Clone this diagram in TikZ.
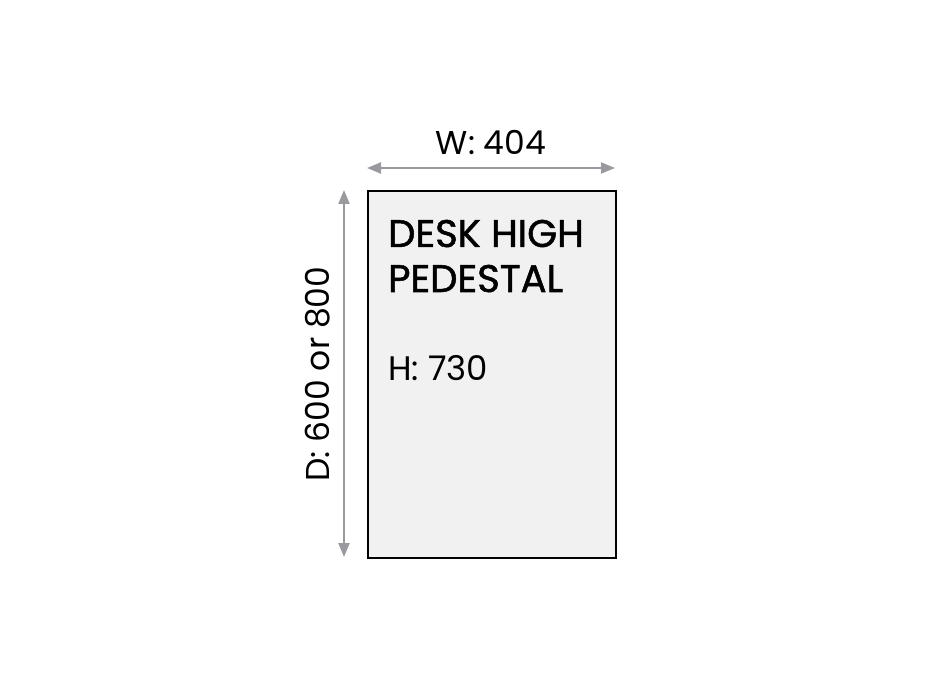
\documentclass[tikz,border=0pt]{standalone}
\usepackage{fontspec}
\setmainfont{Poppins}
\newfontfamily\titlefont[FakeBold=1.3]{Poppins}
\usetikzlibrary{arrows.meta}
\definecolor{boxfill}{HTML}{F0F1F0}
\definecolor{dimgrey}{HTML}{9A9A9E}
\begin{document}
\begin{tikzpicture}[x=1pt,y=-1pt,
  dimline/.style={draw=dimgrey,line width=2.2pt,{Triangle[length=14pt,width=11pt]}-{Triangle[length=14pt,width=11pt]}},
  lbl/.style={inner sep=0pt,font=\fontsize{33}{36}\selectfont},
  title/.style={inner sep=0pt,font=\titlefont\fontsize{38.5}{40}\selectfont,anchor=base west,align=left}]
\useasboundingbox (0,0) rectangle (931,700);
\node[draw=black,line width=2pt,fill=boxfill,minimum width=248pt,minimum height=367pt,inner sep=0pt,anchor=north west] (box) at (367,190) {};
\coordinate (wl) at (367,168);
\coordinate (wr) at (615,168);
\coordinate (dt) at (344,190);
\coordinate (db) at (344,557);
\draw[dimline] (wl) -- (wr);
\draw[dimline] (dt) -- (db);
\node[lbl,anchor=base] (wlab) at (491,155) {W: 404};
\node[lbl,anchor=base,rotate=90] (dlab) at (329,374) {D: 600 or 800};
\node[title] (t1) at (388,247) {DESK HIGH};
\node[title] (t2) at (388,292) {PEDESTAL};
\node[lbl,anchor=base west,font=\fontsize{34}{36}\selectfont] (hlab) at (388,380) {H: 730};
\end{tikzpicture}
\end{document}
